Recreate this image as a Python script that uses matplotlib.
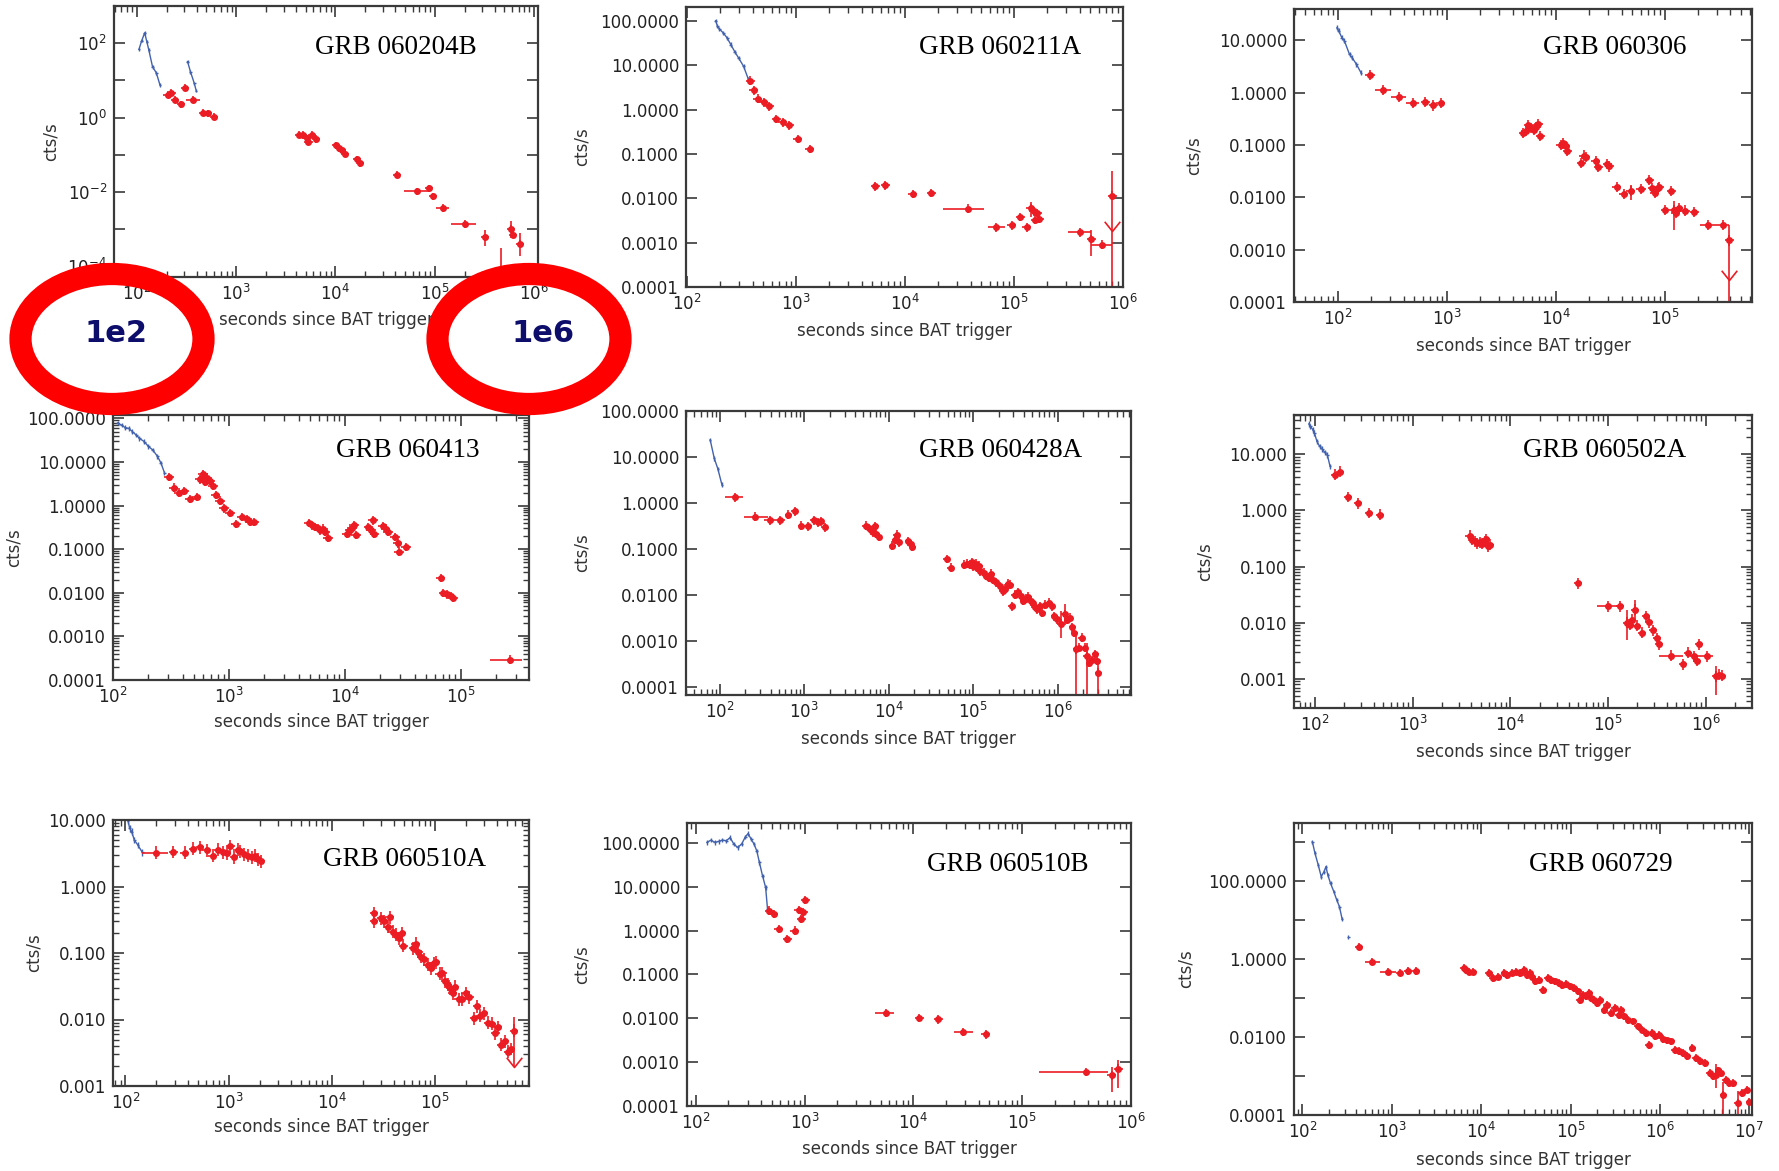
import numpy as np
import matplotlib
matplotlib.use("Agg")
import matplotlib.pyplot as plt
from matplotlib.patches import Ellipse
from matplotlib.path import Path
from matplotlib.ticker import FixedLocator, FuncFormatter, LogLocator, NullFormatter, NullLocator

W, H = 1779, 1171
RED = "#ec1c24"
BLUE = "#4262ad"
FRAME = "#3a3a3a"

plt.rcParams["font.family"] = "DejaVu Sans"

# ---- light curves: BAT (blue) and XRT (red), seconds vs cts/s ----
# GRB 060204B
p1_bat_t = [105, 112, 120, 126, 132, 144, 157, 171, 324, 347, 379, 396]
p1_bat_r = [68, 117, 190, 110, 66, 23, 16, 7.5, 32, 17, 8.3, 5.3]
p1_xrt_t = [204, 223, 244, 278, 304, 464, 525, 600, 4290, 4680, 5120, 5350, 5830, 6380,
            10200, 10900, 11600, 12400, 16400, 17600, 41400, 88300, 95700, 318000,
            583000, 615000, 728000]
p1_xrt_r = [4.1, 4.7, 2.98, 2.28, 6.4, 1.36, 1.31, 1.06, 0.342, 0.342, 0.279, 0.226, 0.342, 0.263,
            0.177, 0.150, 0.130, 0.106, 0.076, 0.059, 0.029, 0.0126, 0.0076, 0.0006,
            0.001, 0.00071, 0.0004]
p1_bin_t = [372, 66100, 120000, 203000]
p1_bin_r = [2.98, 0.0103, 0.0037, 0.00136]
p1_bin_lo = [316, 48500, 102600, 146000]
p1_bin_hi = [432, 90000, 140000, 259000]
p1_err_t = [318000, 460000, 583000, 728000]
p1_err_lo = [0.00035, 1e-6, 0.00057, 0.00019]
p1_err_hi = [0.00096, 0.00031, 0.0016, 0.00079]

# GRB 060211A
p2_bat_t = [183, 190, 198, 215, 233, 252, 274, 297, 330, 364]
p2_bat_r = [100, 75, 65, 53, 41, 29, 20, 14.5, 9.4, 4.9]
p2_xrt_t = [378, 410, 446, 503, 567, 657, 753, 864, 1040, 1330, 5350, 6590, 11800, 17400,
            95300, 114000, 131000, 143000, 151000, 157000, 164000, 171000, 509000, 794000]
p2_xrt_r = [4.5, 2.7, 1.75, 1.45, 1.18, 0.61, 0.51, 0.44, 0.216, 0.129, 0.0186, 0.0195, 0.0125, 0.0132,
            0.00245, 0.0038, 0.0022, 0.006, 0.0051, 0.0033, 0.0047, 0.0034, 0.0012, 0.0115]
p2_bin_t = [37600, 68900, 399000, 638000]
p2_bin_r = [0.0058, 0.0022, 0.0017, 0.0009]
p2_bin_lo = [22200, 57100, 313000, 509000]
p2_bin_hi = [52700, 82400, 509000, 794000]
p2_err_t = [143000, 509000, 794000]
p2_err_lo = [0.0038, 0.00051, 1e-6]
p2_err_hi = [0.0083, 0.00195, 0.041]
p2_ul_t = [794000]
p2_ul_r = [0.0018]

# GRB 060306
p3_bat_t = [97.5, 101, 108, 114, 127, 134, 147, 162]
p3_bat_r = [17.6, 15.2, 11.3, 9.8, 5.4, 4.7, 3.5, 2.4]
p3_xrt_t = [627, 750, 871, 4990, 5280, 5590, 5870, 6220, 6590, 6860, 7150, 11000, 11700, 12300,
            12700, 17000, 18000, 18800, 23100, 24400, 29500, 30700, 36200, 42000, 48600, 71500,
            76900, 80800, 86300, 89100, 101000, 114000, 122000, 126000, 134000, 153000, 186000, 390000]
p3_xrt_r = [0.67, 0.57, 0.64, 0.171, 0.184, 0.237, 0.213, 0.198, 0.223, 0.247, 0.148, 0.102, 0.107, 0.095,
            0.076, 0.0455, 0.063, 0.058, 0.050, 0.0376, 0.0435, 0.039, 0.0156, 0.0117, 0.0134, 0.0218,
            0.0151, 0.0121, 0.0151, 0.0158, 0.0058, 0.0134, 0.0058, 0.005, 0.00625, 0.0056, 0.0052, 0.0015]
p3_bin_t = [196, 259, 359, 482, 60700, 248000, 339000]
p3_bin_r = [2.15, 1.12, 0.84, 0.625, 0.0147, 0.003, 0.003]
p3_bin_lo = [176, 216, 308, 416, 54600, 211000, 293000]
p3_bin_hi = [218, 308, 416, 555, 67000, 293000, 390000]
p3_err_t = [48600, 122000, 390000]
p3_err_lo = [0.009, 0.0024, 1e-6]
p3_err_hi = [0.0175, 0.0087, 0.003]
p3_ul_t = [390000]
p3_ul_r = [0.000264]

# GRB 060413
p4_bat_t = [110, 119, 127, 137, 147, 158, 169, 186, 202, 220, 242, 259, 278]
p4_bat_r = [79, 70, 62, 59, 50, 42, 35, 29.5, 22.8, 19.1, 13.5, 9.6, 5.7]
p4_xrt_t = [305, 333, 370, 411, 464, 527, 566, 596, 621, 653, 686, 726, 769, 837, 912, 1020, 1150,
            1300, 1430, 1530, 1640, 4940, 5230, 5500, 5830, 6120, 6480, 6810, 7160, 10400, 11000,
            11500, 12000, 12500, 16000, 16800, 17500, 18000, 21200, 22500, 23600, 27200, 28600,
            29300, 33700, 67100, 71100, 76400, 82000, 86100]
p4_xrt_r = [4.6, 2.6, 2.0, 2.18, 1.42, 1.6, 4.0, 5.2, 3.5, 4.4, 3.7, 2.9, 1.74, 1.3, 0.87, 0.67, 0.385,
            0.545, 0.5, 0.42, 0.42, 0.405, 0.353, 0.323, 0.307, 0.272, 0.296, 0.249, 0.182, 0.229, 0.272,
            0.307, 0.353, 0.21, 0.323, 0.272, 0.458, 0.229, 0.34, 0.296, 0.249, 0.192, 0.136,
            0.088, 0.114, 0.0219, 0.01, 0.0092, 0.0084, 0.0075]
p4_bin_t = [265000]
p4_bin_r = [0.000295]
p4_bin_lo = [179000]
p4_bin_hi = [340000]

# GRB 060428A
p5_bat_t = [77, 86, 95, 106]
p5_bat_r = [23.6, 9.4, 5.5, 2.5]
p5_xrt_t = [645, 771, 920, 1110, 1300, 1440, 1570, 1740, 5320, 5780, 6220, 6550, 6900, 7120, 7660,
            11000, 11900, 12500, 13100, 17100, 18200, 19000, 48600, 54000,
            78700, 84600, 91000, 96800, 101000, 108000, 112000, 118000, 122000, 133000, 143000,
            153000, 163000, 172000, 185000, 206000, 224000, 240000, 259000, 275000, 287000,
            312000, 339000, 365000, 393000, 427000, 450000, 484000, 510000, 537000, 571000,
            615000, 662000, 719000, 798000, 859000, 914000, 984000, 1090000, 1210000, 1310000,
            1390000, 1500000, 1580000, 1660000, 1800000, 1940000, 2090000, 2220000, 2390000,
            2570000, 2800000, 2950000, 3040000]
p5_xrt_r = [0.56, 0.66, 0.32, 0.31, 0.42, 0.38, 0.4, 0.30, 0.32, 0.287, 0.256, 0.231, 0.312, 0.216, 0.183,
            0.119, 0.16, 0.206, 0.14, 0.148, 0.129, 0.111, 0.061, 0.039,
            0.046, 0.0484, 0.046, 0.0518, 0.0424, 0.0484, 0.039, 0.0438, 0.033, 0.0304, 0.0266,
            0.0237, 0.0294, 0.0218, 0.019, 0.0156, 0.0122, 0.0137, 0.0178, 0.017, 0.00575,
            0.0103, 0.0116, 0.0095, 0.0076, 0.0083, 0.0092, 0.0074, 0.0066, 0.0056, 0.0049,
            0.00575, 0.0041, 0.00625, 0.0068, 0.00575, 0.0035, 0.003, 0.0024, 0.0038, 0.0029,
            0.0032, 0.002, 0.00152, 0.00066, 0.00072, 0.00119, 0.00072, 0.00047, 0.00034,
            0.00039, 0.00052, 0.00037, 0.000207]
p5_bin_t = [153, 263, 391, 523]
p5_bin_r = [1.33, 0.5, 0.42, 0.42]
p5_bin_lo = [114, 194, 334, 443]
p5_bin_hi = [188, 371, 443, 593]
p5_err_t = [1090000, 1210000, 1660000, 2220000, 3040000]
p5_err_lo = [0.0012, 0.0022, 1e-6, 1e-6, 1e-6]
p5_err_hi = [0.0045, 0.0065, 0.0014, 0.0009, 0.0004]

# GRB 060502A
p6_bat_t = [87, 90, 95.5, 99, 105, 112, 119, 126, 134, 143]
p6_bat_r = [34.9, 31.3, 27.3, 23.8, 16.9, 13.8, 12.4, 10.8, 9.8, 6.1]
p6_xrt_t = [161, 181, 217, 278, 356, 461, 3830, 4050, 4310, 4600, 4860, 5180, 5520, 5680, 5940, 6220,
            49400, 133000, 156000, 167000, 178000, 188000, 200000, 226000, 247000, 264000, 289000,
            316000, 337000, 583000, 657000, 767000, 811000, 865000, 1280000, 1360000, 1460000]
p6_xrt_r = [4.3, 4.9, 1.73, 1.35, 0.9, 0.84, 0.354, 0.30, 0.28, 0.262, 0.27, 0.255, 0.28, 0.309, 0.229, 0.245,
            0.0508, 0.0195, 0.0099, 0.0092, 0.0113, 0.017, 0.0089, 0.0066, 0.013, 0.0102, 0.0073,
            0.0053, 0.0041, 0.0018, 0.0029, 0.0025, 0.0021, 0.0041, 0.0011, 0.00119, 0.00114]
p6_bin_t = [101000, 444000, 1040000]
p6_bin_r = [0.0195, 0.0026, 0.0025]
p6_bin_lo = [76700, 337000, 826000]
p6_bin_hi = [133000, 583000, 1190000]
p6_err_t = [156000, 188000, 1280000]
p6_err_lo = [0.005, 0.0106, 0.00052]
p6_err_hi = [0.017, 0.0257, 0.00167]

# GRB 060510A
p7_bat_t = [106, 110, 115, 122, 132, 146]
p7_bat_r = [9.8, 7.5, 6.7, 5.0, 4.2, 3.25]
p7_xrt_t = [292, 376, 452, 530, 611, 699, 788, 887, 961, 1040, 1130, 1220, 1290, 1400, 1550, 1680,
            1790, 1920, 2050, 25600, 25600, 30100, 31800, 35300, 36400, 38800, 42000, 44800, 47300,
            49300, 61500, 65000, 68800, 73300, 78100, 84600, 91600, 96800, 102000, 111000, 118000,
            126000, 133000, 141000, 148000, 156000, 169000, 183000, 198000, 215000, 238000, 256000,
            272000, 295000, 327000, 354000, 383000, 406000, 439000, 475000, 514000, 544000, 580000]
p7_xrt_r = [3.3, 3.2, 3.7, 3.86, 3.48, 2.92, 3.56, 3.28, 3.17, 4.0, 2.76, 3.56, 3.36, 3.06, 2.89, 2.76,
            2.89, 2.58, 2.38, 0.397, 0.298, 0.334, 0.298, 0.25, 0.346, 0.21, 0.187, 0.167, 0.199,
            0.128, 0.118, 0.137, 0.105, 0.0885, 0.0807, 0.0664, 0.0592, 0.0703, 0.072, 0.0486, 0.0498,
            0.0373, 0.0332, 0.0296, 0.0249, 0.0313, 0.0202, 0.0202, 0.0249, 0.0217, 0.0105, 0.0157,
            0.0114, 0.0124, 0.009, 0.0086, 0.0062, 0.0077, 0.0042, 0.0047, 0.0033, 0.0036, 0.0068]
p7_bin_t = [199]
p7_bin_r = [3.2]
p7_bin_lo = [146]
p7_bin_hi = [259]
p7_err_t = [580000]
p7_err_lo = [0.00196]
p7_err_hi = [0.011]
p7_ul_t = [580000]
p7_ul_r = [0.00196]

# GRB 060510B
p8_bat_t = [127, 138, 150, 162, 176, 191, 207, 224, 243, 264, 286, 303, 323, 344, 364, 385, 411, 439, 457]
p8_bat_r = [103, 116, 103, 108, 116, 112, 133, 94, 79, 94, 138, 164, 122, 94, 66, 36, 17.9, 9.7, 3.1]
p8_xrt_t = [475, 524, 577, 695, 817, 885, 937, 975, 1020, 11300, 16900, 46400, 668000, 766000]
p8_xrt_r = [2.85, 2.39, 1.09, 0.646, 1.0, 2.95, 1.84, 2.61, 4.99, 0.0103, 0.0094, 0.0043, 0.0005, 0.00071]
p8_bin_t = [5550, 28600, 388000]
p8_bin_r = [0.0131, 0.00485, 0.000596]
p8_bin_lo = [4460, 23400, 144000]
p8_bin_hi = [6680, 35000, 615000]
p8_err_t = [668000, 766000]
p8_err_lo = [0.00021, 0.00026]
p8_err_hi = [0.00078, 0.0011]

# GRB 060729
p9_bat_t = [129, 138, 150, 162, 174, 183, 192, 206, 224, 242, 259, 278, 327]
p9_bat_r = [1000, 504, 254, 128, 171, 230, 141, 86, 53, 32, 21.8, 10.3, 3.7]
p9_xrt_t = [428, 1220, 1520, 1860, 6350, 6810, 7380, 8150, 12200, 13400, 15600, 18100, 19600, 22100,
            24400, 27000, 29900, 32300, 34700, 37200, 40300, 44500, 49200, 55500, 60100, 66400, 73400,
            81100, 89600, 99000, 109000, 121000, 127000, 136000, 148000, 160000, 171000, 184000,
            199000, 216000, 238000, 256000, 283000, 312000, 345000, 370000, 401000, 443000, 499000,
            568000, 628000, 695000, 745000, 807000, 891000, 985000, 1090000, 1200000, 1330000,
            1470000, 1620000, 1830000, 2020000, 2300000, 2540000, 2810000, 3200000, 3610000,
            3910000, 4200000, 4500000, 4780000, 5120000, 5500000, 5950000, 6570000, 7410000,
            8190000, 9330000, 10000000]
p9_xrt_r = [2.07, 0.447, 0.493, 0.493, 0.577, 0.523, 0.474, 0.474, 0.43, 0.32, 0.353, 0.43, 0.39, 0.447,
            0.474, 0.43, 0.523, 0.39, 0.447, 0.353, 0.263, 0.29, 0.161, 0.32, 0.29, 0.263, 0.239,
            0.216, 0.23, 0.196, 0.178, 0.146, 0.0894, 0.12, 0.109, 0.132, 0.0986, 0.0894,
            0.0735, 0.0894, 0.0496, 0.0667, 0.0408, 0.0547, 0.037, 0.0496, 0.0335, 0.0275, 0.025,
            0.0186, 0.0153, 0.0126, 0.0063, 0.0126, 0.0103, 0.0114, 0.0088, 0.0081, 0.0077,
            0.0047, 0.0043, 0.0039, 0.0032, 0.0052, 0.0029, 0.0024, 0.00215, 0.00119,
            0.00098, 0.00108, 0.00139, 0.00119, 0.00033, 0.0008, 0.00066, 0.00066, 0.0002,
            0.00037, 0.00045, 0.00022]
p9_bin_t = [607, 906]
p9_bin_r = [0.855, 0.474]
p9_bin_lo = [497, 741]
p9_bin_hi = [741, 1100]
p9_err_t = [5120000, 7410000, 4200000]
p9_err_lo = [1e-6, 1e-6, 0.0005]
p9_err_hi = [0.0007, 0.0004, 0.002]

# panel layout in pixels: (left, right, top, bottom)
panels = [
    dict(name="GRB 060204B", box=(114, 538, 6, 277), xlim=(10**1.77, 10**6.04), ylim=(10**-4.29, 10**3.0),
         yfmt="pow", every2=True, yminor=False, title_xy=(0.474, 0.846), ylab_x=51, xlab_y=320,
         bat=(p1_bat_t, p1_bat_r), xrt=(p1_xrt_t, p1_xrt_r),
         bins=(p1_bin_t, p1_bin_r, p1_bin_lo, p1_bin_hi), errs=(p1_err_t, p1_err_lo, p1_err_hi), ul=None),
    dict(name="GRB 060211A", box=(686, 1123, 7, 287), xlim=(10**1.99, 10**6.0), ylim=(1e-4, 10**2.31),
         yfmt="%.4f", every2=False, yminor=False, title_xy=(0.533, 0.855), ylab_x=582, xlab_y=331,
         bat=(p2_bat_t, p2_bat_r), xrt=(p2_xrt_t, p2_xrt_r),
         bins=(p2_bin_t, p2_bin_r, p2_bin_lo, p2_bin_hi), errs=(p2_err_t, p2_err_lo, p2_err_hi),
         ul=(p2_ul_t, p2_ul_r)),
    dict(name="GRB 060306", box=(1294, 1752, 9, 302), xlim=(10**1.594, 10**5.8), ylim=(1e-4, 10**1.6),
         yfmt="%.4f", every2=False, yminor=False, title_xy=(0.544, 0.868), ylab_x=1194, xlab_y=346,
         bat=(p3_bat_t, p3_bat_r), xrt=(p3_xrt_t, p3_xrt_r),
         bins=(p3_bin_t, p3_bin_r, p3_bin_lo, p3_bin_hi), errs=(p3_err_t, p3_err_lo, p3_err_hi),
         ul=(p3_ul_t, p3_ul_r)),
    dict(name="GRB 060413", box=(113, 529, 415, 680), xlim=(100, 10**5.59), ylim=(1e-4, 10**2.08),
         yfmt="%.4f", every2=False, yminor=True, title_xy=(0.536, 0.866), ylab_x=14, xlab_y=722,
         bat=(p4_bat_t, p4_bat_r), xrt=(p4_xrt_t, p4_xrt_r),
         bins=(p4_bin_t, p4_bin_r, p4_bin_lo, p4_bin_hi), errs=None, ul=None),
    dict(name="GRB 060428A", box=(686, 1131, 411, 695), xlim=(10**1.6, 10**6.87), ylim=(10**-4.17, 100),
         yfmt="%.4f", every2=False, yminor=False, title_xy=(0.524, 0.861), ylab_x=582, xlab_y=739,
         bat=(p5_bat_t, p5_bat_r), xrt=(p5_xrt_t, p5_xrt_r),
         bins=(p5_bin_t, p5_bin_r, p5_bin_lo, p5_bin_hi), errs=(p5_err_t, p5_err_lo, p5_err_hi), ul=None),
    dict(name="GRB 060502A", box=(1294, 1752, 415, 708), xlim=(10**1.786, 10**6.476), ylim=(10**-3.52, 10**1.70),
         yfmt="%.3f", every2=False, yminor=True, title_xy=(0.5, 0.879), ylab_x=1205, xlab_y=752,
         bat=(p6_bat_t, p6_bat_r), xrt=(p6_xrt_t, p6_xrt_r),
         bins=(p6_bin_t, p6_bin_r, p6_bin_lo, p6_bin_hi), errs=(p6_err_t, p6_err_lo, p6_err_hi), ul=None),
    dict(name="GRB 060510A", box=(113, 529, 820, 1086), xlim=(10**1.88, 10**5.91), ylim=(1e-3, 10),
         yfmt="%.3f", every2=False, yminor=True, title_xy=(0.505, 0.85), ylab_x=34, xlab_y=1127,
         bat=(p7_bat_t, p7_bat_r), xrt=(p7_xrt_t, p7_xrt_r),
         bins=(p7_bin_t, p7_bin_r, p7_bin_lo, p7_bin_hi), errs=(p7_err_t, p7_err_lo, p7_err_hi),
         ul=(p7_ul_t, p7_ul_r)),
    dict(name="GRB 060510B", box=(687, 1131, 823, 1106), xlim=(10**1.92, 10**6.0), ylim=(1e-4, 10**2.455),
         yfmt="%.4f", every2=False, yminor=False, title_xy=(0.54, 0.853), ylab_x=582, xlab_y=1149,
         bat=(p8_bat_t, p8_bat_r), xrt=(p8_xrt_t, p8_xrt_r),
         bins=(p8_bin_t, p8_bin_r, p8_bin_lo, p8_bin_hi), errs=(p8_err_t, p8_err_lo, p8_err_hi), ul=None),
    dict(name="GRB 060729", box=(1294, 1752, 823, 1115), xlim=(10**1.905, 10**7.03), ylim=(1e-4, 10**3.48),
         yfmt="%.4f", every2=True, yminor=False, title_xy=(0.513, 0.858), ylab_x=1186, xlab_y=1160,
         bat=(p9_bat_t, p9_bat_r), xrt=(p9_xrt_t, p9_xrt_r),
         bins=(p9_bin_t, p9_bin_r, p9_bin_lo, p9_bin_hi), errs=(p9_err_t, p9_err_lo, p9_err_hi), ul=None),
]

# open "V" used for upper limits
vmark = Path([(-0.8, 1.0), (0, 0), (0.8, 1.0)], [Path.MOVETO, Path.LINETO, Path.LINETO])


def ylabel_func(fmt, every2):
    def f(v, pos):
        e = int(round(np.log10(v)))
        if every2 and e % 2 != 0:
            return ""
        if fmt == "pow":
            return r"$10^{%d}$" % e
        return fmt % v
    return f


fig = plt.figure(figsize=(W / 100, H / 100), dpi=100)

for p in panels:
    x0, x1, y0, y1 = p["box"]
    ax = fig.add_axes([x0 / W, 1 - y1 / H, (x1 - x0) / W, (y1 - y0) / H])
    ax.set_xscale("log")
    ax.set_yscale("log")

    # BAT
    bt, br = np.asarray(p["bat"][0], float), np.asarray(p["bat"][1], float)
    cuts = np.where(np.diff(np.log10(bt)) > 0.06)[0] + 1
    for st, sr in zip(np.split(bt, cuts), np.split(br, cuts)):
        ax.plot(st, sr, color=BLUE, lw=1.0)
    ax.errorbar(bt, br, xerr=[bt - bt / 1.03, bt * 0.03], yerr=[br - br / 1.12, br * 0.12],
                fmt="none", ecolor=BLUE, elinewidth=1.0)

    # XRT
    t, r = np.asarray(p["xrt"][0], float), np.asarray(p["xrt"][1], float)
    ax.errorbar(t, r, xerr=[t - t / 1.1, t * 0.1], yerr=[r - r / 1.25, r * 0.25],
                fmt="o", ms=4, color=RED, mec=RED, ecolor=RED, elinewidth=1.2, capsize=0)
    bt2, br2, blo, bhi = [np.asarray(a, float) for a in p["bins"]]
    ax.errorbar(bt2, br2, xerr=[bt2 - blo, bhi - bt2], yerr=[br2 - br2 / 1.25, br2 * 0.25],
                fmt="o", ms=4, color=RED, mec=RED, ecolor=RED, elinewidth=1.2, capsize=0)
    if p["errs"] is not None:
        ax.vlines(p["errs"][0], p["errs"][1], p["errs"][2], color=RED, lw=1.2)
    if p["ul"] is not None:
        ax.plot(p["ul"][0], p["ul"][1], marker=vmark, ms=14, ls="none",
                mfc="none", mec=RED, mew=1.2)

    ax.set_xlim(*p["xlim"])
    ax.set_ylim(*p["ylim"])

    # ticks
    ylo, yhi = p["ylim"]
    e_lo = int(np.ceil(np.log10(ylo) - 1e-9))
    e_hi = int(np.floor(np.log10(yhi) + 1e-9))
    ax.yaxis.set_major_locator(FixedLocator([10.0 ** e for e in range(e_lo, e_hi + 1)]))
    ax.yaxis.set_major_formatter(FuncFormatter(ylabel_func(p["yfmt"], p["every2"])))
    if p["yminor"]:
        ax.yaxis.set_minor_locator(LogLocator(base=10, subs=np.arange(2, 10), numticks=30))
    else:
        ax.yaxis.set_minor_locator(NullLocator())
    ax.yaxis.set_minor_formatter(NullFormatter())
    ax.xaxis.set_major_locator(LogLocator(base=10, numticks=20))
    ax.xaxis.set_major_formatter(FuncFormatter(lambda v, pos: r"$10^{%d}$" % int(round(np.log10(v)))))
    ax.xaxis.set_minor_locator(LogLocator(base=10, subs=np.arange(2, 10), numticks=30))
    ax.xaxis.set_minor_formatter(NullFormatter())

    ax.tick_params(which="both", direction="in", top=True, right=True, color=FRAME,
                   labelsize=12, labelcolor="#222222", pad=5)
    ax.tick_params(which="major", length=8, width=1.2)
    ax.tick_params(which="minor", length=4, width=1.0)
    for s in ax.spines.values():
        s.set_linewidth(1.6)
        s.set_color(FRAME)

    ax.set_xlabel("seconds since BAT trigger", fontsize=12, color="#333333", va="center")
    ax.xaxis.set_label_coords(0.5, (y1 - p["xlab_y"]) / (y1 - y0))
    ax.set_ylabel("cts/s", fontsize=12, color="#333333", va="center")
    ax.yaxis.set_label_coords((p["ylab_x"] - x0) / (x1 - x0), 0.5)

    ax.text(p["title_xy"][0], p["title_xy"][1], p["name"], transform=ax.transAxes,
            fontsize=19.5, family="Liberation Serif", ha="left", va="center", color="black")

# red rings marking the axis range of the first panel
for cx, tx, label in [(112, 116, "1e2"), (529, 543, "1e6")]:
    ring = Ellipse((cx / W, 1 - 339 / H), 183 / W, 130 / H, transform=fig.transFigure,
                   fill=False, edgecolor="#ff0000", linewidth=16, zorder=10)
    fig.add_artist(ring)
    fig.text(tx / W, 1 - 334 / H, label, ha="center", va="center", fontsize=22,
             fontweight="bold", color="#0d0d6b", zorder=11)

fig.savefig("out.png", dpi=100)
